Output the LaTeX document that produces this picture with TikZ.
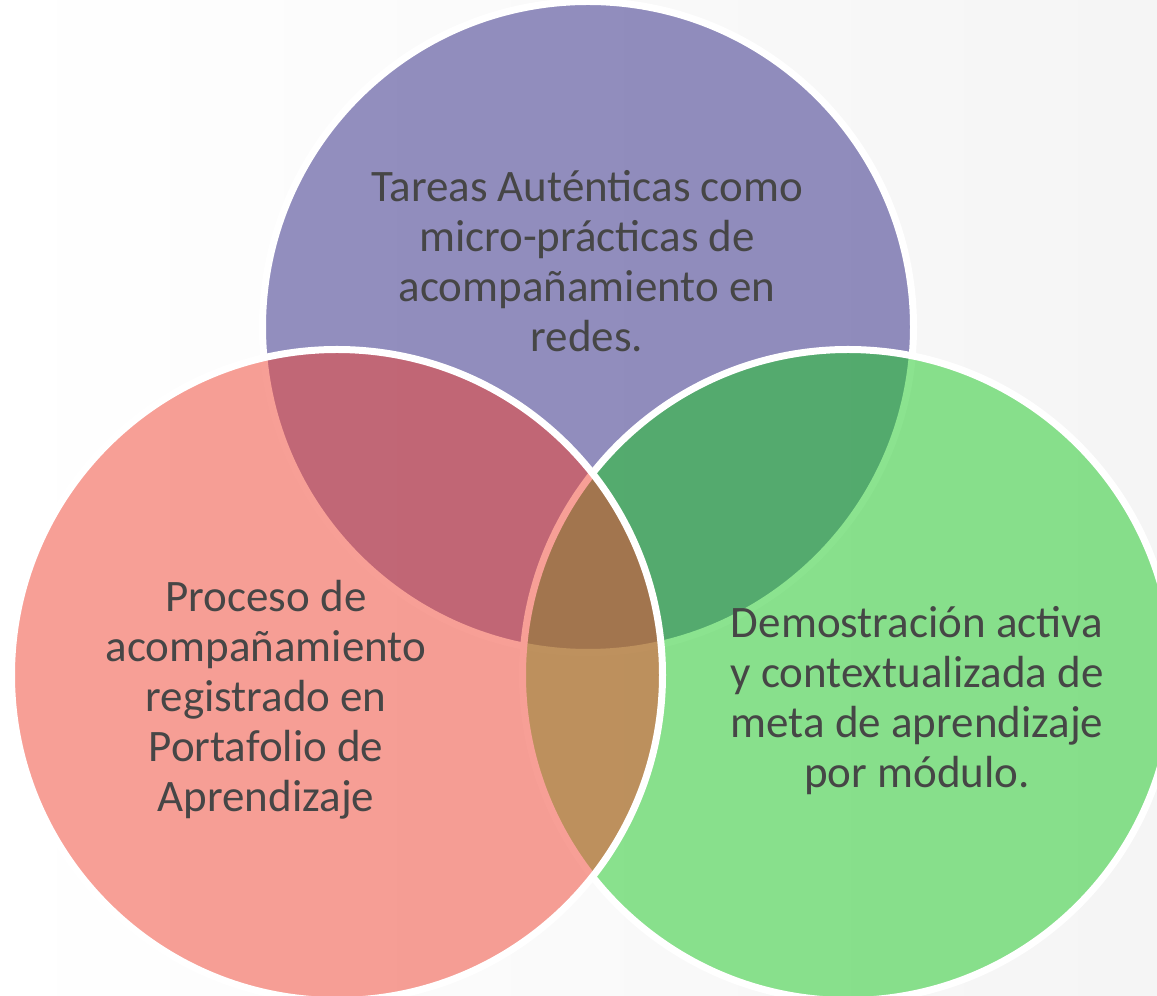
\documentclass[tikz,border=0pt]{standalone}
\usepackage{fontspec}
\setmainfont{Carlito}
\usetikzlibrary{positioning}

\definecolor{purplebase}{RGB}{41,33,129}
\definecolor{salmonbase}{RGB}{241,65,47}
\definecolor{greenbase}{RGB}{25,201,33}
\definecolor{texto}{RGB}{70,70,70}

\tikzset{
    circulo/.style={circle, draw=white, line width=7pt, fill opacity=0.5, minimum size=651pt, inner sep=0pt},
    etiqueta/.style={text=texto, align=center, inner sep=0pt, font=\fontsize{45}{50}\selectfont}
}

\begin{document}
\begin{tikzpicture}[x=1pt, y=1pt]
                \useasboundingbox (0,0) rectangle (1157,996);
                \shade[left color=white, right color=black!4] (0,0) rectangle (1157,996);

                \node[circulo, fill=purplebase] (tareas) at (588,669) {};
                \node[circulo, fill=greenbase] (demo) at (848,321) {};
                \node[circulo, fill=salmonbase] (proceso) at (337,321) {};

                \node[etiqueta] (txtTareas) at (587,729) {\strut Tareas Auténticas como\\
                    micro-prácticas de\\
                    acompañamiento en\\
                    redes.\strut};
                \node[etiqueta] (txtProceso) at (266,294) {\strut Proceso de\\
                    acompañamiento\\
                    registrado en\\
                    Portafolio de\\
                    Aprendizaje\strut};
                \node[etiqueta] (txtDemo) at (917,293) {\strut Demostración activa\\
                    y contextualizada de\\
                    meta de aprendizaje\\
                    por módulo.\strut};
            \end{tikzpicture}
\end{document}
